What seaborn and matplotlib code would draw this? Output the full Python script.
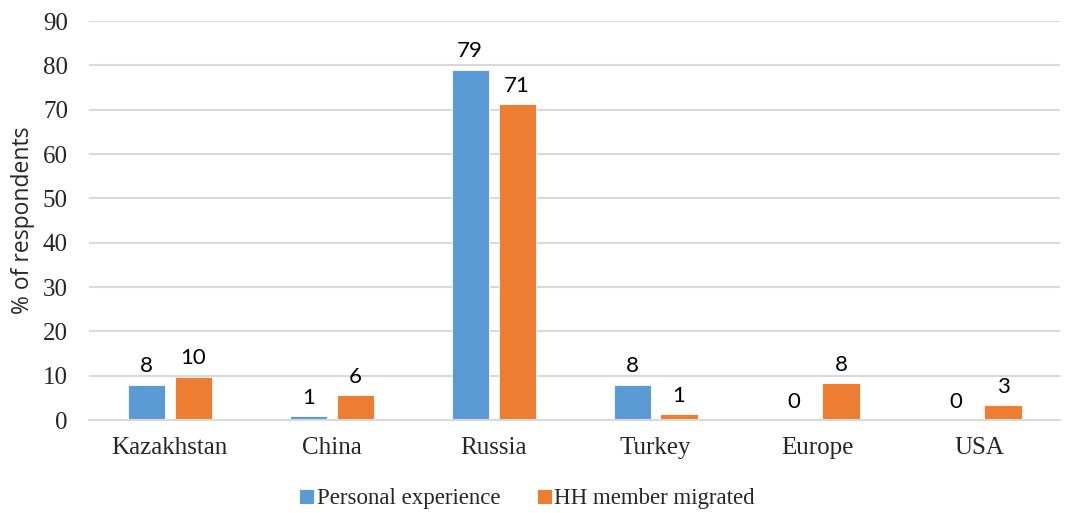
import pandas as pd
import numpy as np
import matplotlib.pyplot as plt
import seaborn as sns

countries = ["Kazakhstan", "China", "Russia", "Turkey", "Europe", "USA"]
personal = [8.0, 0.9, 79.0, 8.0, 0.0, 0.0]
hh_member = [9.8, 5.6, 71.3, 1.4, 8.4, 3.4]
series_names = ["Personal experience", "HH member migrated"]
yticks = [0, 10, 20, 30, 40, 50, 60, 70, 80, 90]

df = pd.DataFrame({
    "country": countries * 2,
    "value": personal + hh_member,
    "series": [series_names[0]] * len(countries) + [series_names[1]] * len(countries),
})

sns.set_style("white")
palette = {series_names[0]: "#5B9BD5", series_names[1]: "#ED7D31"}

fig, ax = plt.subplots(figsize=(10.69, 5.13), dpi=100)
fig.subplots_adjust(left=0.083, right=0.992, top=0.959, bottom=0.181)

sns.barplot(data=df, x="country", y="value", hue="series", order=countries,
            hue_order=series_names, palette=palette, width=0.58, gap=0.21,
            saturation=1, edgecolor="white", linewidth=0.6, ax=ax)

# data labels, rounded like in the original
for cont in ax.containers:
    vals = [b.get_height() for b in cont]
    ax.bar_label(cont, labels=[f"{v:.0f}" for v in vals], padding=6,
                 fontsize=16, family="Lato", color="black")

ax.set_ylim(0, 90)
ax.set_yticks(yticks)
ax.set_xlim(-0.5, len(countries) - 0.5)
ax.yaxis.grid(True, color="#D9D9D9", linewidth=1.5)
ax.set_axisbelow(True)
for s in ["top", "right", "left"]:
    ax.spines[s].set_visible(False)
ax.spines["bottom"].set_color("#D9D9D9")
ax.spines["bottom"].set_linewidth(1.5)
ax.tick_params(axis="both", length=0)
ax.tick_params(axis="y", pad=15)
ax.tick_params(axis="x", pad=12)
for lab in ax.get_xticklabels() + ax.get_yticklabels():
    lab.set_family("Liberation Serif")
    lab.set_fontsize(18)

ax.set_xlabel("")
ax.set_ylabel("% of respondents", family="Open Sans", fontsize=16.5, labelpad=6)

ax.legend(loc="center", bbox_to_anchor=(0.451, -0.197), ncol=2, frameon=False,
          prop={"family": "Liberation Serif", "size": 16.5}, handlelength=0.65,
          handleheight=0.65, handletextpad=0.1, columnspacing=1.6)

fig.savefig("out.png", dpi=100)
